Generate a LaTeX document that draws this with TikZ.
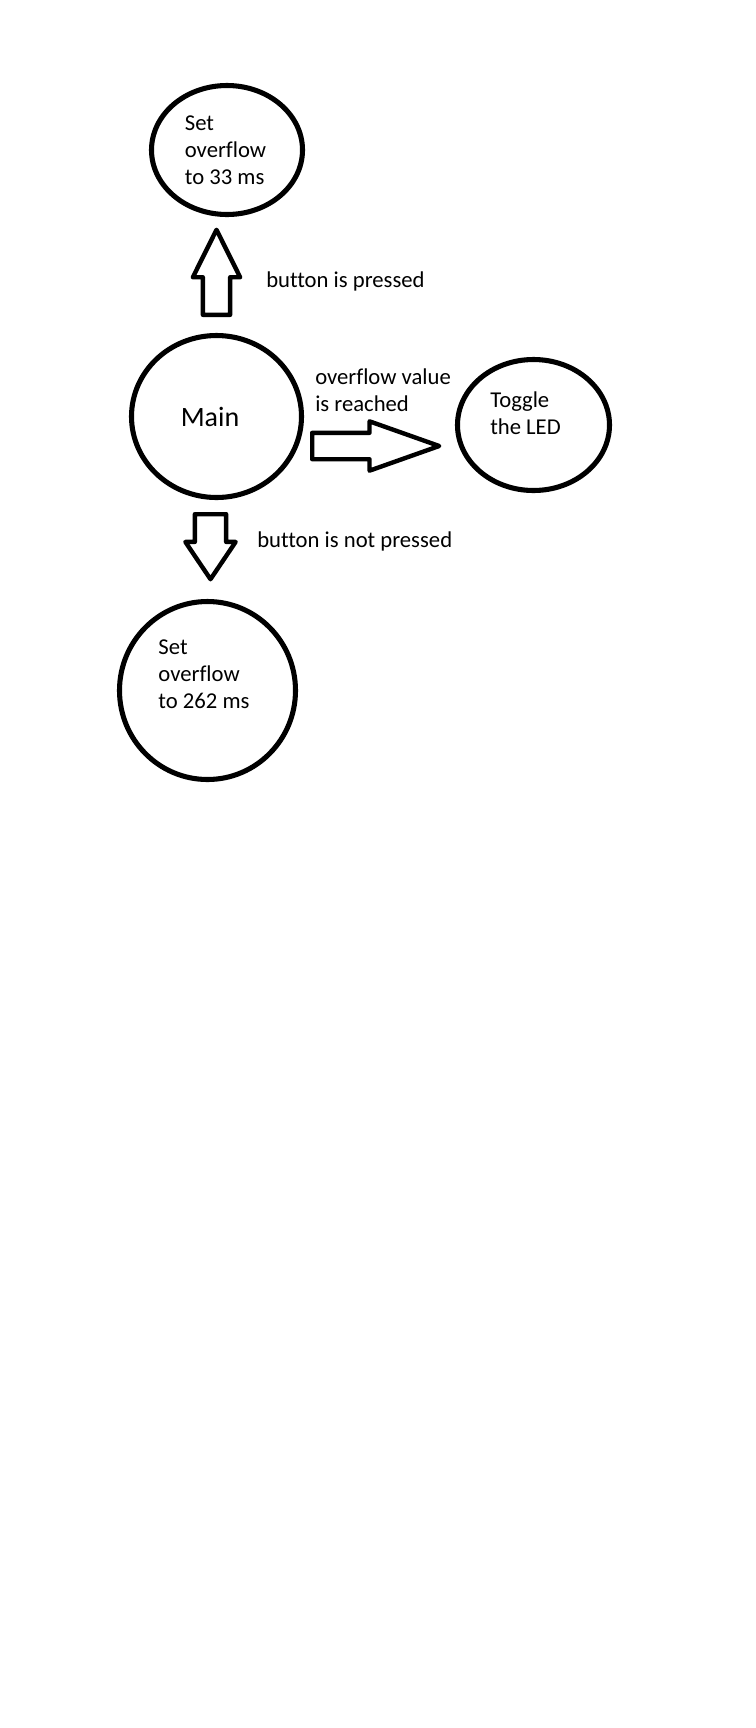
\documentclass[tikz,border=0pt]{standalone}
\usepackage{fontspec}
\setmainfont{Carlito}[Ligatures=NoCommon]
\usetikzlibrary{shapes.geometric, shapes.arrows}

\begin{document}
\begin{tikzpicture}[x=0.75pt, y=-0.75pt,
    state/.style={ellipse, draw, line width=3.8pt, inner sep=0pt},
    statetext/.style={align=left, font=\fontsize{17}{20.25}\selectfont, inner sep=0pt},
    blockarrow/.style={single arrow, draw, line width=3.3pt, line join=round, inner xsep=0pt, anchor=tail},
    edgetext/.style={align=left, font=\fontsize{17}{20.25}\selectfont, inner sep=0pt}]

    \path[fill=white, use as bounding box] (0,0) rectangle (756,1728);

    % States
    \node[state, minimum width=127.5pt, minimum height=121.5pt,
          label={[statetext, font=\fontsize{21}{24}\selectfont, shift={(-6.5,0)}]center:Main}] (main) at (216.5,416.5) {};
    \node[state, minimum width=113.25pt, minimum height=96.75pt,
          label={[statetext, shift={(-1.5,0.5)}]center:Set\\overflow\\to 33 ms}] (set33) at (227,150) {};
    \node[state, minimum width=114pt, minimum height=98.25pt,
          label={[statetext, shift={(-8,-12)}]center:Toggle\\the LED}] (toggle) at (533.5,425) {};
    \node[state, minimum width=132pt, minimum height=133.5pt,
          label={[statetext, shift={(-3.5,-16)}]center:Set\\overflow\\to 262 ms}] (set262) at (207.5,690.5) {};
    % Block arrows from main
    \node[blockarrow, rotate=90, inner ysep=8.6pt, single arrow head extend=7.5pt,
          single arrow tip angle=53, minimum height=63.75pt] (pressArrow) at (216.5,317) {}; % main to set33
    \node[blockarrow, inner ysep=8.25pt, single arrow head extend=8.6pt,
          single arrow tip angle=39, minimum height=95.25pt] (reachArrow) at (310,446) {}; % main to toggle
    \node[blockarrow, rotate=-90, inner ysep=10.1pt, single arrow head extend=7.1pt,
          single arrow tip angle=68, minimum height=48.75pt] (notPressArrow) at (210.5,512) {}; % main to set262
    % Arrow labels
    \node[edgetext, anchor=base west] (pressText) at (266,287) {button is pressed};
    \node[edgetext, anchor=west] (reachText) at (315,390.5) {overflow value\\is reached};
    \node[edgetext, anchor=base west] (notPressText) at (257,547) {button is not pressed};
\end{tikzpicture}
\end{document}
